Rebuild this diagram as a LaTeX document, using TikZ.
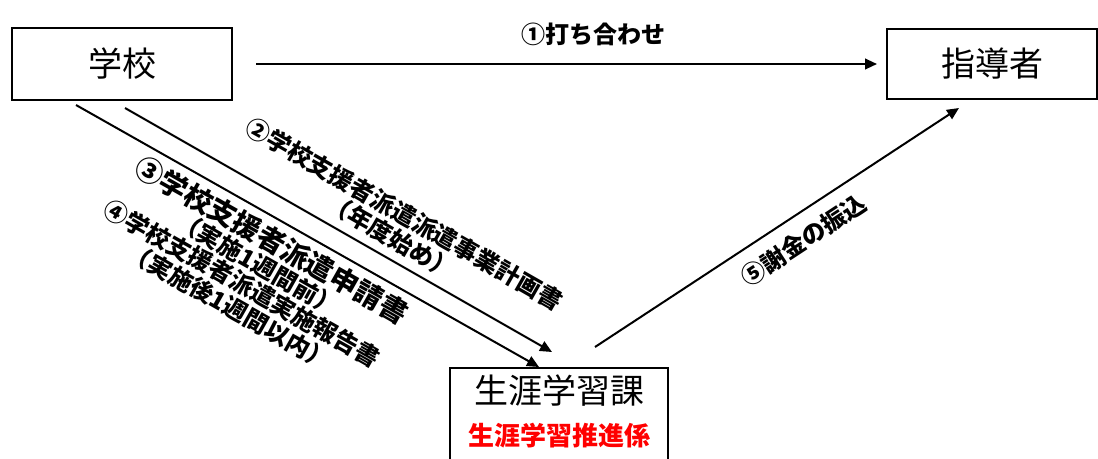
\documentclass[tikz,border=0pt]{standalone}
\usepackage{fontspec}
\setmainfont{Noto Sans CJK JP}[BoldFont={* Black}]
\usetikzlibrary{arrows.meta}

\begin{document}
\begin{tikzpicture}[x=0.75pt, y=-0.75pt, >={Triangle[length=9pt,width=8pt]},
    box/.style={draw, line width=1.5pt, inner sep=0pt, font=\fontsize{25.5}{30}\selectfont},
    lbl/.style={inner sep=0pt, align=center, font=\bfseries\fontsize{18}{19.5}\selectfont},
    flow/.style={->, line width=1.5pt}]
    \useasboundingbox (0,0) rectangle (1098,458);

    \node[box, minimum width=165pt, minimum height=54pt] (school) at (122,64) {学校};
    \node[box, minimum width=157.5pt, minimum height=52.5pt] (leader) at (992,64) {指導者};
    \node[box, minimum width=163.5pt, minimum height=81pt, anchor=north] (dept) at (559,367) {};
    \node[font=\fontsize{25.5}{30}\selectfont, inner sep=0pt] (deptname) at ([yshift=-18pt]dept.north) {生涯学習課};
    \node[font=\bfseries\fontsize{19.5}{20}\selectfont, text=red, inner sep=0pt] (deptsec) at ([yshift=-51.75pt]dept.north) {生涯学習推進係};

    \coordinate (s2) at ([shift={(3,7)}]school.south);
    \coordinate (s34) at ([shift={(-46,4)}]school.south);
    \coordinate (e2) at ([shift={(-7,-15)}]dept.north);
    \coordinate (e34) at ([shift={(-20,0)}]dept.north);
    \coordinate (s5) at ([shift={(36,-20)}]dept.north);
    \coordinate (e5) at ([shift={(-33,8)}]leader.south);

    \draw[flow, shorten <=17.25pt, shorten >=6.75pt] (school) -- (leader)
        node[lbl, pos=.552, yshift=22.5pt] {①打ち合わせ};
    \draw[flow] (s2) -- (e2)
        node[lbl, sloped, pos=.6, yshift=25pt] {②学校支援者派遣派遣事業計画書\\（年度始め）};
    \draw[flow] (s34) -- (e34)
        node[lbl, sloped, pos=.445, yshift=-25.5pt] {{\fontsize{21}{21}\selectfont ③学校支援者派遣申請書}\\（実施1週間前）}
        node[lbl, sloped, pos=.437, yshift=-65pt] {④学校支援者派遣実施報告書\\（実施後1週間以内）};
    \draw[flow] (s5) -- (e5)
        node[lbl, sloped, pos=.535, yshift=-18.75pt] {⑤謝金の振込};
\end{tikzpicture}
\end{document}
